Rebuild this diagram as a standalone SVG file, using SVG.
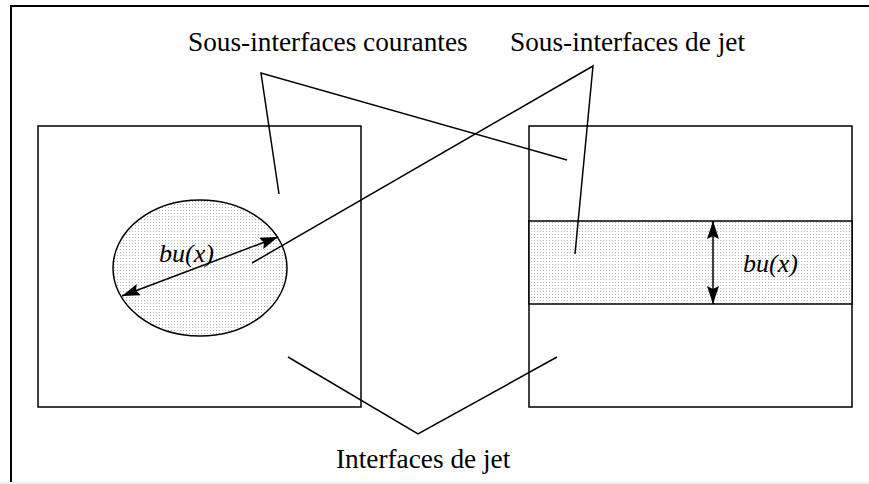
<svg xmlns="http://www.w3.org/2000/svg" width="869" height="484" viewBox="0 0 869 484">
<style>
.ln{fill:none;stroke:#000;stroke-width:1.5}
.sh{stroke:#000;stroke-width:1.5}
.t{font-family:"Liberation Serif","Times New Roman",serif;font-size:27.3px;fill:#000}
.ti{font-family:"Liberation Serif","Times New Roman",serif;font-size:26px;font-style:italic;fill:#000}
</style>
<defs>
<pattern id="dots" width="3" height="3" patternUnits="userSpaceOnUse">
<rect width="3" height="3" fill="#fff"/>
<rect width="1" height="1" fill="#b4b4b4"/>
</pattern>
<marker id="ah" viewBox="0 0 18 12" refX="18" refY="6" markerWidth="18" markerHeight="12" markerUnits="userSpaceOnUse" orient="auto-start-reverse">
<path d="M0,0 L18,6 L0,12 L3,6 Z" fill="#000"/>
</marker>
</defs>
<rect x="0" y="0" width="869" height="484" fill="#fff"/>
<rect x="11" y="6" width="870" height="490" fill="none" stroke="#000" stroke-width="2"/>
<rect x="0" y="482" width="869" height="2" fill="#f0f0f0"/>
<g id="left-box">
<rect class="sh" x="38" y="126" width="323" height="281" fill="#fff"/>
<ellipse class="sh" cx="200" cy="268" rx="87" ry="68" fill="url(#dots)"/>
<line class="ln" x1="122" y1="296" x2="278" y2="237" marker-start="url(#ah)" marker-end="url(#ah)"/>
<text class="ti" x="159" y="262">bu(x)</text>
</g>
<g id="right-box">
<rect class="sh" x="529" y="126" width="323" height="281" fill="#fff"/>
<rect class="sh" x="529" y="221" width="323" height="83" fill="url(#dots)"/>
<line class="ln" x1="713" y1="221" x2="713" y2="304" marker-start="url(#ah)" marker-end="url(#ah)"/>
<text class="ti" x="743" y="272">bu(x)</text>
</g>
<g id="label-courantes">
<text class="t" x="188" y="51">Sous-interfaces courantes</text>
</g>
<g id="label-jet">
<text class="t" x="510" y="51">Sous-interfaces de jet</text>
</g>
<g id="label-interfaces">
<text class="t" x="336" y="468">Interfaces de jet</text>
</g>
<g id="connectors">
<polyline class="ln" points="279,194 261,73 567,160"/>
<polyline class="ln" points="575,254 593,66 252,263"/>
<polyline class="ln" points="288,357 418,434 557,357"/>
</g>
</svg>
